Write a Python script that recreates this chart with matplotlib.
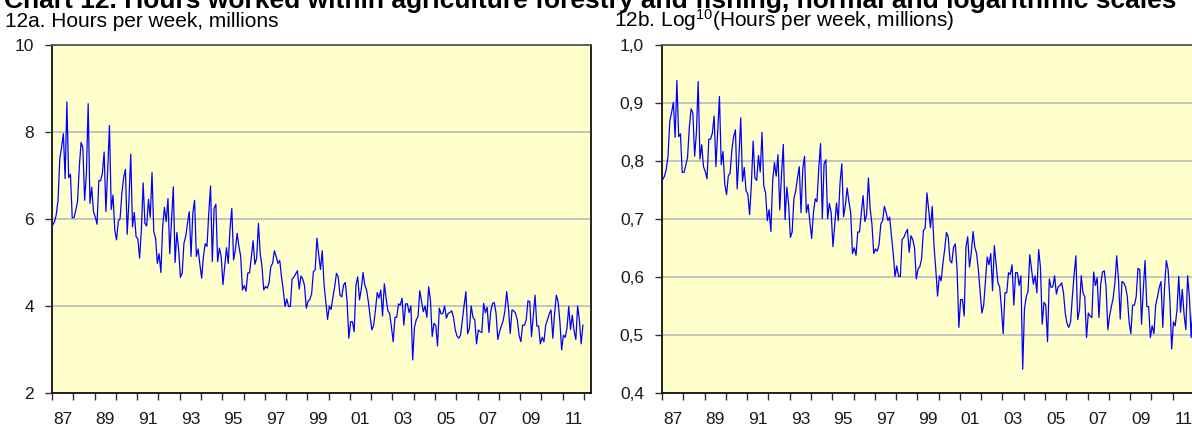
import numpy as np
import matplotlib
matplotlib.use("Agg")
import matplotlib.pyplot as plt
from matplotlib.ticker import FixedLocator, FuncFormatter, NullFormatter

# ---------------- data ----------------
start_year = 1987
# Hours worked per week, millions (monthly, Jan 1987 - Dec 2011)
hours_millions = [
    5.86, 5.94, 6.10, 6.43, 7.39, 7.65, 7.96, 6.93, 8.69, 6.95, 7.03, 6.03,
    6.03, 6.20, 6.40, 7.20, 7.76, 7.64, 6.43, 7.05, 8.65, 6.36, 6.73, 6.17,
    6.05, 5.88, 6.88, 6.88, 7.05, 7.54, 6.17, 7.12, 8.15, 6.22, 6.55, 5.75,
    5.52, 5.95, 6.01, 6.59, 6.95, 7.14, 5.65, 6.43, 7.49, 5.82, 6.15, 5.60,
    5.54, 5.10, 5.75, 6.83, 5.90, 5.84, 6.45, 6.04, 7.07, 5.71, 5.56, 4.98,
    5.20, 4.77, 5.82, 6.27, 5.94, 6.47, 5.20, 5.98, 6.74, 5.00, 5.69, 5.31,
    4.66, 4.76, 5.44, 5.60, 5.90, 6.17, 5.14, 6.13, 6.43, 5.14, 5.31, 4.95,
    4.64, 5.14, 5.43, 5.37, 6.13, 6.76, 5.02, 6.24, 6.34, 5.02, 5.33, 5.14,
    4.49, 4.91, 5.34, 4.98, 5.79, 6.24, 5.06, 5.29, 5.67, 5.37, 5.14, 4.37,
    4.47, 4.34, 4.76, 4.76, 5.14, 5.50, 4.96, 5.10, 5.90, 5.21, 4.91, 4.37,
    4.45, 4.41, 4.53, 4.91, 4.98, 5.27, 5.14, 4.98, 5.05, 4.68, 4.37, 3.99,
    4.16, 3.99, 3.99, 4.62, 4.66, 4.74, 4.81, 4.39, 4.69, 4.62, 4.47, 3.95,
    4.11, 4.15, 4.28, 4.79, 4.83, 5.56, 5.18, 4.84, 5.27, 4.50, 4.10, 3.69,
    4.00, 3.92, 4.20, 4.44, 4.75, 4.67, 4.25, 4.21, 4.48, 4.54, 4.10, 3.26,
    3.64, 3.64, 3.41, 4.48, 4.67, 4.14, 4.38, 4.77, 4.48, 4.37, 4.10, 3.75,
    3.45, 3.56, 3.91, 4.31, 4.18, 4.37, 3.77, 4.51, 4.18, 3.89, 3.83, 3.52,
    3.18, 3.74, 3.74, 4.05, 4.02, 4.18, 3.56, 4.05, 4.05, 3.85, 4.00, 2.76,
    3.51, 3.68, 3.76, 4.35, 4.10, 3.87, 4.00, 3.74, 4.44, 4.14, 3.30, 3.60,
    3.56, 3.08, 3.95, 3.82, 3.83, 4.00, 3.72, 3.83, 3.85, 3.89, 3.74, 3.45,
    3.31, 3.26, 3.33, 3.68, 4.02, 4.33, 3.36, 3.49, 4.00, 3.74, 3.68, 3.13,
    3.45, 3.41, 3.39, 4.06, 3.85, 3.97, 3.39, 3.87, 4.06, 4.08, 3.83, 3.23,
    3.41, 3.54, 3.66, 3.89, 4.33, 3.95, 3.37, 3.91, 3.89, 3.83, 3.68, 3.33,
    3.18, 3.56, 3.56, 3.68, 4.12, 4.10, 3.30, 3.79, 4.25, 3.54, 3.54, 3.13,
    3.28, 3.18, 3.56, 3.68, 3.82, 3.91, 3.26, 3.82, 4.25, 4.10, 3.64, 2.99,
    3.33, 3.28, 3.49, 3.99, 3.46, 3.79, 3.43, 3.23, 4.00, 3.68, 3.13, 3.56,
]
year_labels = ["87", "89", "91", "93", "95", "97", "99", "01", "03", "05", "07", "09", "11"]
left_yticks = [2, 4, 6, 8, 10]
right_yticks = [0.4, 0.5, 0.6, 0.7, 0.8, 0.9, 1.0]

title = "Chart 12. Hours worked within agriculture forestry and fishing, normal and logarithmic scales"
sub_a = "12a. Hours per week, millions"
sub_b = r"12b. Log$^{10}$(Hours per week, millions)"

# ---------------- style ----------------
plt.rcParams["font.family"] = ["Liberation Sans", "DejaVu Sans"]
plt.rcParams["mathtext.fontset"] = "custom"
plt.rcParams["mathtext.rm"] = "Liberation Sans"
plt.rcParams["mathtext.it"] = "Liberation Sans:italic"
plt.rcParams["mathtext.default"] = "regular"

W, H = 1192, 428
fig = plt.figure(figsize=(W / 100, H / 100), dpi=100)

BG = "#FFFFCC"
GRID = "#C0C0C0"
LINE = "#0000FF"

n = len(hours_millions)
x = start_year + (np.arange(n) + 0.4) / 12.0
vals = np.array(hours_millions)
logvals = np.log10(vals)

px_per_year = 21.28
ax_w = 539
x_end = start_year + ax_w / px_per_year


def setup(ax, yticks, fmt):
    ax.set_facecolor(BG)
    ax.set_xlim(start_year, x_end)
    ax.set_ylim(yticks[0], yticks[-1])
    ax.yaxis.set_major_locator(FixedLocator(yticks))
    ax.yaxis.set_major_formatter(FuncFormatter(fmt))
    ax.grid(axis="y", color=GRID, lw=1.3, zorder=0)
    ax.set_axisbelow(True)
    ax.xaxis.set_major_locator(FixedLocator(np.arange(start_year, 2013)))
    ax.xaxis.set_major_formatter(NullFormatter())
    ax.xaxis.set_minor_locator(FixedLocator(np.arange(start_year, 2012, 2) + 0.5))
    ax.xaxis.set_minor_formatter(FuncFormatter(lambda v, p: year_labels[p] if p is not None and p < len(year_labels) else ""))
    ax.tick_params(axis="x", which="major", direction="out", length=5, width=1.0, color="#333333")
    ax.tick_params(axis="x", which="minor", length=0, pad=14, labelsize=12.5, labelcolor="#1a1a1a")
    ax.tick_params(axis="y", which="major", direction="out", length=5, width=1.0, color="#333333",
                   pad=8, labelsize=12.5, labelcolor="#1a1a1a")
    for s in ["left", "bottom", "right"]:
        ax.spines[s].set_color("#111111")
        ax.spines[s].set_linewidth(1.3)
    ax.spines["top"].set_color("#555555")
    ax.spines["top"].set_linewidth(1.3)


ax1 = fig.add_axes([52 / W, 35 / H, ax_w / W, 348 / H])
ax1.plot(x, vals, color=LINE, lw=0.9, zorder=3)
setup(ax1, left_yticks, lambda v, p: f"{v:g}")

ax2 = fig.add_axes([662 / W, 35 / H, ax_w / W, 348 / H])
ax2.plot(x, logvals, color=LINE, lw=0.9, zorder=3)
setup(ax2, right_yticks, lambda v, p: f"{v:.1f}".replace(".", ","))

fig.text(4 / W, 1 - 8 / H, title, fontsize=19, fontweight="bold", va="baseline", ha="left")
fig.text(5 / W, 1 - 27 / H, sub_a, fontsize=15, va="baseline", ha="left")
fig.text(614 / W, 1 - 27 / H, sub_b, fontsize=15, va="baseline", ha="left")

fig.savefig("out.png", dpi=100)
